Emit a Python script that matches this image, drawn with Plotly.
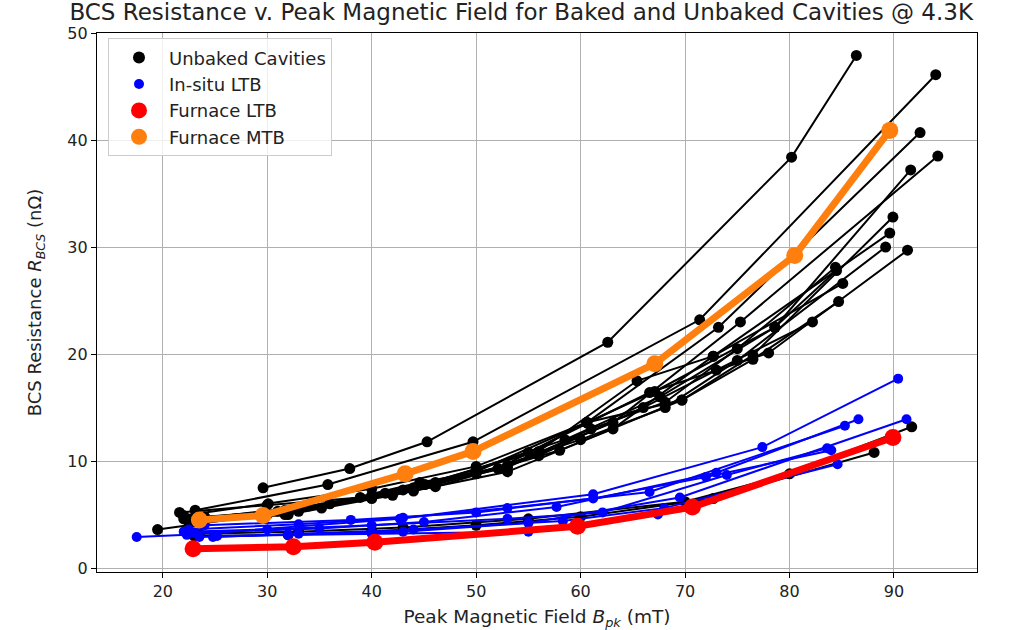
import plotly.graph_objects as go

# ---------------- data ----------------
unbaked_x = [
    [29.6, 37.9, 45.3, 62.6, 80.2, 86.4],
    [23.1, 35.8, 49.7, 71.4, 94.0],
    [22.0, 30.1, 40.0, 50.0, 60.6, 73.2, 92.5],
    [23.5, 31.7, 41.3, 53.0, 63.1, 75.3, 94.2],
    [21.6, 30.0, 38.9, 46.1, 58.5, 67.6, 78.6, 91.6],
    [24.0, 33.0, 44.6, 52.1, 60.6, 69.7, 76.5, 89.9],
    [22.5, 32.0, 42.0, 53.0, 63.1, 72.7, 89.6],
    [19.5, 30.0, 40.0, 50.0, 60.0, 68.1, 75.0, 89.2],
    [23.0, 35.2, 45.1, 55.0, 66.6, 78.0, 91.3],
    [24.0, 31.7, 43.0, 56.0, 65.4, 72.7, 85.1],
    [23.0, 33.0, 44.0, 53.0, 61.0, 68.1, 75.0, 84.4],
    [24.0, 36.0, 46.1, 58.0, 69.7, 76.5, 84.7],
    [22.5, 34.0, 44.0, 56.0, 66.0, 73.0, 82.2],
    [22.0, 31.0, 40.0, 50.0, 60.6, 67.1, 78.6, 84.5],
    [23.5, 33.0, 43.0, 55.0, 70.0, 80.0, 91.7],
    [23.0, 32.0, 40.0, 50.0, 60.0, 72.7, 88.1],
]
unbaked_y = [
    [7.5, 9.3, 11.8, 21.1, 38.4, 47.9],
    [5.4, 7.8, 11.8, 23.2, 46.1],
    [4.9, 6.0, 7.4, 9.5, 13.6, 22.5, 40.7],
    [4.6, 5.4, 7.0, 9.6, 13.6, 23.0, 38.5],
    [5.2, 5.9, 6.6, 8.0, 12.0, 16.0, 22.5, 37.2],
    [4.5, 5.3, 8.0, 9.3, 13.6, 15.7, 19.9, 32.8],
    [4.2, 5.0, 6.8, 9.0, 13.0, 19.8, 31.3],
    [3.6, 5.0, 6.5, 8.8, 12.0, 15.0, 19.4, 30.0],
    [4.3, 5.6, 7.8, 10.8, 16.4, 20.1, 29.7],
    [4.8, 5.0, 7.3, 10.9, 17.5, 19.8, 26.6],
    [4.7, 5.5, 7.5, 9.4, 13.0, 15.5, 20.5, 28.1],
    [4.4, 6.0, 7.6, 11.0, 15.7, 19.5, 24.9],
    [4.5, 5.8, 7.2, 10.5, 15.0, 18.5, 23.0],
    [4.6, 5.3, 6.8, 9.0, 13.6, 16.5, 22.5, 27.8],
    [3.2, 3.4, 3.8, 4.6, 6.2, 8.8, 13.2],
    [3.0, 3.1, 3.4, 4.0, 4.8, 6.5, 10.8],
]

insitu_x = [
    [17.5, 22.3, 42.7, 61.2, 77.4, 90.4],
    [22.5, 33.0, 43.0, 53.0, 66.6, 85.3],
    [23.0, 35.0, 45.0, 57.7, 73.0, 86.6],
    [23.5, 32.0, 43.0, 55.0, 69.5, 91.2],
    [24.8, 33.0, 44.0, 58.3, 68.0, 84.6],
    [22.0, 30.0, 40.0, 53.0, 62.1, 74.0, 83.6],
    [25.2, 40.0, 55.0, 67.4],
    [24.0, 38.0, 50.0, 61.2, 72.0, 84.0],
]
insitu_y = [
    [2.9, 3.1, 4.6, 6.9, 11.3, 17.7],
    [3.6, 4.1, 4.7, 5.6, 7.1, 13.3],
    [3.3, 3.7, 4.3, 5.7, 8.9, 13.9],
    [2.9, 3.1, 3.4, 4.2, 6.6, 13.9],
    [2.9, 3.2, 3.6, 4.4, 5.6, 9.7],
    [3.4, 3.6, 4.0, 4.6, 5.2, 8.7, 11.2],
    [3.0, 3.2, 3.4, 5.0],
    [4.0, 4.5, 5.2, 6.5, 8.5, 11.0],
]

furnace_ltb_x = [22.9, 32.5, 40.3, 59.7, 70.7, 89.9]
furnace_ltb_y = [1.8, 2.0, 2.4, 3.9, 5.7, 12.2]

furnace_mtb_x = [23.5, 29.6, 43.2, 49.7, 67.1, 80.5, 89.6]
furnace_mtb_y = [4.5, 4.9, 8.8, 10.9, 19.1, 29.2, 40.9]

legend_names = ["Unbaked Cavities", "In-situ LTB", "Furnace LTB", "Furnace MTB"]
x_ticks = [20, 30, 40, 50, 60, 70, 80, 90]
y_ticks = [0, 10, 20, 30, 40, 50]

# ---------------- styles ----------------
BLACK = "#000000"
BLUE = "#0000ff"
RED = "#ff0000"
ORANGE = "#ff7f0e"
FONT = "DejaVu Sans"

fig = go.Figure()

for xs, ys in zip(unbaked_x, unbaked_y):
    fig.add_trace(go.Scatter(x=xs, y=ys, mode="lines+markers",
                             line=dict(color=BLACK, width=2),
                             marker=dict(color=BLACK, size=11),
                             showlegend=False, hoverinfo="skip"))
for xs, ys in zip(insitu_x, insitu_y):
    fig.add_trace(go.Scatter(x=xs, y=ys, mode="lines+markers",
                             line=dict(color=BLUE, width=2),
                             marker=dict(color=BLUE, size=10),
                             showlegend=False, hoverinfo="skip"))
fig.add_trace(go.Scatter(x=furnace_ltb_x, y=furnace_ltb_y, mode="lines+markers",
                         line=dict(color=RED, width=7),
                         marker=dict(color=RED, size=17),
                         showlegend=False, hoverinfo="skip"))
fig.add_trace(go.Scatter(x=furnace_mtb_x, y=furnace_mtb_y, mode="lines+markers",
                         line=dict(color=ORANGE, width=7),
                         marker=dict(color=ORANGE, size=17),
                         showlegend=False, hoverinfo="skip"))

# legend-only entries (markers only, like a scatter legend)
for name, col, sz in zip(legend_names, [BLACK, BLUE, RED, ORANGE], [12, 10, 16, 16]):
    fig.add_trace(go.Scatter(x=[None], y=[None], mode="markers", name=name,
                             marker=dict(color=col, size=sz)))

axis_common = dict(
    showgrid=True, gridcolor="#b0b0b0", gridwidth=1,
    showline=True, linecolor="black", linewidth=1.3, mirror=True,
    ticks="outside", ticklen=5, tickwidth=1, tickcolor="black",
    zeroline=False, automargin=False,
    tickfont=dict(family=FONT, size=16, color="#222"),
)

fig.update_layout(
    width=1030, height=630,
    margin=dict(l=97, r=53, t=33, b=58),
    paper_bgcolor="white", plot_bgcolor="white",
    title=dict(text="BCS Resistance v. Peak Magnetic Field for Baked and Unbaked Cavities @ 4.3K",
               x=0.506, xanchor="center", xref="container", y=0.981, yanchor="middle", yref="container",
               font=dict(family=FONT, size=23, color="#222")),
    xaxis=dict(range=[13.7, 97.95], tickvals=x_ticks, ticktext=[str(v) for v in x_ticks],
               title=dict(text="Peak Magnetic Field <i>B</i><sub><i>pk</i></sub> (mT)",
                          font=dict(family=FONT, size=18.5, color="#222"), standoff=12),
               **axis_common),
    yaxis=dict(range=[-0.37, 50], tickvals=y_ticks, ticktext=[str(v) for v in y_ticks],
               title=dict(text="BCS Resistance <i>R</i><sub><i>BCS</i></sub> (nΩ)",
                          font=dict(family=FONT, size=18, color="#222"), standoff=20),
               **axis_common),
    legend=dict(x=0.0125, y=0.99, xanchor="left", yanchor="top",
                bgcolor="rgba(255,255,255,0.8)", bordercolor="#cccccc", borderwidth=1,
                font=dict(family=FONT, size=18, color="#222"),
                itemsizing="trace", itemwidth=50, tracegroupgap=0),
    showlegend=True,
)

fig.write_html("out.html")
